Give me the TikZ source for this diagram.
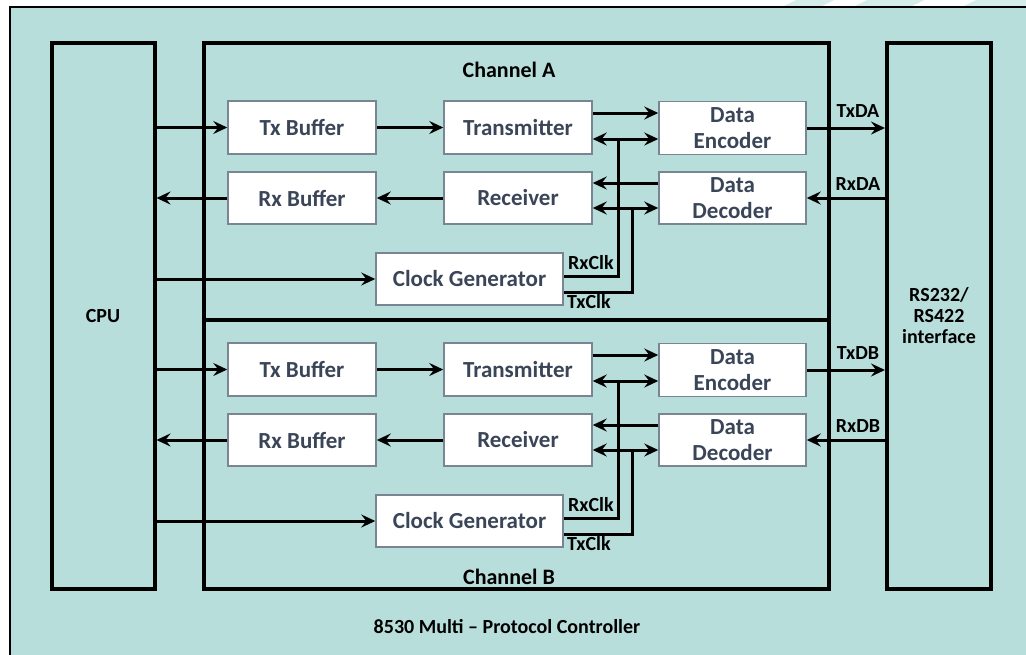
\documentclass[tikz,border=0pt]{standalone}
\usepackage{fontspec}
\setmainfont{Carlito}
\usetikzlibrary{arrows.meta}
\definecolor{bgteal}{HTML}{B8DEDC}
\definecolor{stripe}{HTML}{D4EDEB}
\definecolor{boxtext}{HTML}{3A4558}
\definecolor{boxline}{HTML}{7A8593}
\tikzset{
  blk/.style={draw=boxline, line width=1.5pt, fill=white, inner sep=0pt, align=center,
              font=\fontsize{23}{25.5}\selectfont\bfseries, text=boxtext},
  heavy/.style={draw=black, line width=4pt, inner sep=0pt},
  wire/.style={draw=black, line width=3pt},
  arr/.style={wire, -{Stealth[length=14pt,width=13pt,inset=5pt]}},
  biarr/.style={wire, {Stealth[length=14pt,width=13pt,inset=5pt]}-{Stealth[length=14pt,width=13pt,inset=5pt]}},
  lbl/.style={inner sep=0pt, font=\fontsize{20}{21}\selectfont\bfseries, text=black, align=center},
}
\begin{document}
\begin{tikzpicture}[x=1pt,y=-1pt]
\useasboundingbox (0,0) rectangle (1026,654);
% background
\fill[white] (0,0) rectangle (1026,654);
\fill[stripe] (782,7) -- (820,7) -- (834,0) -- (796,0) -- cycle;
\fill[stripe] (853,7) -- (910,7) -- (924,0) -- (867,0) -- cycle;
\fill[stripe] (962,7) -- (1026,7) -- (1026,0) -- (976,0) -- cycle;
\fill[bgteal] (10,7) rectangle (1030,660);
\draw[line width=1.5pt] (10,660) -- (10,7) -- (1030,7);

% big boxes
\node[heavy, minimum width=103pt, minimum height=546pt] (CPU) at (103,316) {};
\node[lbl] at (CPU.center) {CPU};
\node[heavy, minimum width=104pt, minimum height=546pt] (RS) at (939,316) {};
\node[lbl, align=center] at (RS.center) {RS232/\\RS422\\interface};
\node[heavy, minimum width=625pt, minimum height=277pt] (chA) at (516.5,181.5) {};
\node[heavy, minimum width=625pt, minimum height=269pt] (chB) at (516.5,454.5) {};
\node[lbl, font=\fontsize{22}{23}\selectfont\bfseries] (labA) at (509,70) {Channel A};
\node[lbl, font=\fontsize{22}{23}\selectfont\bfseries] (labB) at (509,577) {Channel B};
\node[lbl] (title) at (507,627) {8530 Multi -- Protocol Controller};

\foreach \ch/\dy in {A/0,B/242}{
  \node[blk, minimum width=148pt, minimum height=53pt] (Tx\ch) at (302,127.5+\dy) {Tx Buffer};
  \node[blk, minimum width=148pt, minimum height=53pt] (Tr\ch) at (518,127.5+\dy) {Transmitter};
  \node[blk, minimum width=147pt, minimum height=53pt] (Enc\ch) at (732.5,128+\dy) {Data\\Encoder};
  \node[blk, minimum width=148pt, minimum height=52pt] (Rb\ch) at (302,198+\dy) {Rx Buffer};
  \node[blk, minimum width=148pt, minimum height=52pt] (Rc\ch) at (518,198+\dy) {Receiver};
  \node[blk, minimum width=147pt, minimum height=52pt] (Dec\ch) at (732.5,198+\dy) {Data\\Decoder};
  \node[blk, minimum width=187pt, minimum height=52pt] (Clk\ch) at (469.5,279+\dy) {Clock Generator};
  \coordinate (rxj\ch) at (618,139+\dy);
  \coordinate (txj\ch) at (632,208+\dy);
  % CPU links
  \draw[arr] (Tx\ch.west -| CPU.east) -- (Tx\ch.west);
  \draw[arr] (Rb\ch.west) -- (Rb\ch.west -| CPU.east);
  \draw[arr] (Clk\ch.west -| CPU.east) -- (Clk\ch.west);
  % internal
  \draw[arr] (Tx\ch.east) -- (Tr\ch.west);
  \draw[arr] (Rc\ch.west) -- (Rb\ch.east);
  \draw[arr] ([yshift=14.5pt]Tr\ch.east) -- ([yshift=14.5pt]Tr\ch.east -| Enc\ch.west);
  \draw[biarr] ([yshift=-11.5pt]Tr\ch.east) -- ([yshift=-11.5pt]Tr\ch.east -| Enc\ch.west);
  \draw[arr] ([yshift=15pt]Rc\ch.east -| Dec\ch.west) -- ([yshift=15pt]Rc\ch.east);
  \draw[biarr] ([yshift=-10pt]Rc\ch.east) -- ([yshift=-10pt]Rc\ch.east -| Dec\ch.west);
  % clocks
  \draw[wire] ([yshift=3pt]Clk\ch.east) -| (rxj\ch);
  \draw[wire] ([yshift=-13pt]Clk\ch.east) -| (txj\ch);
  \node[lbl, anchor=west] (rxl\ch) at (568,263+\dy) {RxClk};
  \node[lbl, anchor=west] (txl\ch) at (567,302+\dy) {TxClk};
  % RS232 links
  \draw[arr] (Enc\ch.east) -- (Enc\ch.east -| RS.west);
  \draw[arr] (Dec\ch.east -| RS.west) -- (Dec\ch.east);
}
\node[lbl] (tA) at (858,111) {TxDA};
\node[lbl] (rA) at (858,184) {RxDA};
\node[lbl] (tB) at (858,353) {TxDB};
\node[lbl] (rB) at (858,426) {RxDB};
\end{tikzpicture}
\end{document}
